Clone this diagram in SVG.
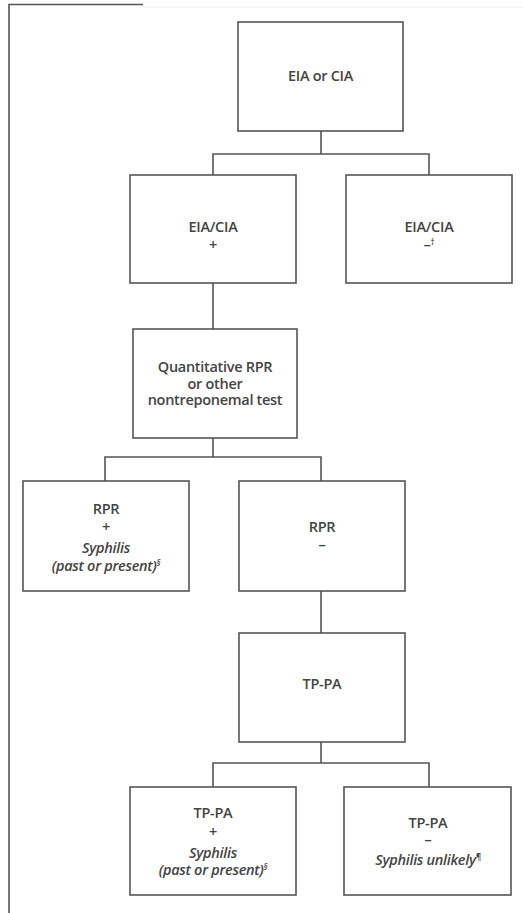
<svg xmlns="http://www.w3.org/2000/svg" width="523" height="913" viewBox="0 0 523 913">
<style>
.box{fill:#fff;stroke:#555;stroke-width:1.6}
.ln{fill:none;stroke:#555;stroke-width:1.6}
text{font-family:"Open Sans","Noto Sans",sans-serif;font-size:14.5px;font-weight:600;fill:#444;text-anchor:middle;letter-spacing:-0.3px}
.it{font-style:italic}
.sup{font-size:8px}
</style>
<rect width="523" height="913" fill="#fff"/>
<g id="frame">
<path class="ln" d="M9,913 V4.5 H143"/>
<path d="M143,7 H523" stroke="#eee" stroke-width="1"/>
</g>
<g id="connectors">
<path class="ln" d="M321,131 V154 M213,176 V154 H429 V176"/>
<path class="ln" d="M213,283 V329"/>
<path class="ln" d="M213,438 V457 M105,481 V457 H321 V481"/>
<path class="ln" d="M321,591 V633"/>
<path class="ln" d="M321,742 V763 M213,787 V763 H429 V787"/>
</g>
<g id="n1"><rect class="box" x="238" y="22" width="165" height="109"/><text x="320.5" y="81">EIA or CIA</text></g>
<g id="n2"><rect class="box" x="130" y="175" width="166" height="108"/><text x="213" y="232">EIA/CIA</text><text x="213" y="250">+</text></g>
<g id="n3"><rect class="box" x="346" y="175" width="166" height="108"/><text x="429" y="232">EIA/CIA</text><text x="429" y="250">–<tspan class="sup" dy="-5">†</tspan></text></g>
<g id="n4"><rect class="box" x="133" y="329" width="164" height="109"/><text x="215" y="372">Quantitative RPR</text><text x="215" y="389">or other</text><text x="215" y="405">nontreponemal test</text></g>
<g id="n5"><rect class="box" x="23" y="481" width="166" height="110"/><text x="106" y="514">RPR</text><text x="106" y="532">+</text><text class="it" x="106" y="553">Syphilis</text><text class="it" x="106" y="571">(past or present)<tspan class="sup" dy="-5">§</tspan></text></g>
<g id="n6"><rect class="box" x="239" y="481" width="166" height="110"/><text x="322" y="532">RPR</text><text x="322" y="550">–</text></g>
<g id="n7"><rect class="box" x="239" y="633" width="166" height="109"/><text x="322" y="689">TP-PA</text></g>
<g id="n8"><rect class="box" x="130" y="787" width="166" height="108"/><text x="213" y="818">TP-PA</text><text x="213" y="837">+</text><text class="it" x="213" y="858">Syphilis</text><text class="it" x="213" y="875">(past or present)<tspan class="sup" dy="-5">§</tspan></text></g>
<g id="n9"><rect class="box" x="344" y="787" width="167" height="108"/><text x="428" y="828">TP-PA</text><text x="428" y="845">–</text><text class="it" x="428" y="865">Syphilis unlikely<tspan class="sup" dy="-5">¶</tspan></text></g>
</svg>
